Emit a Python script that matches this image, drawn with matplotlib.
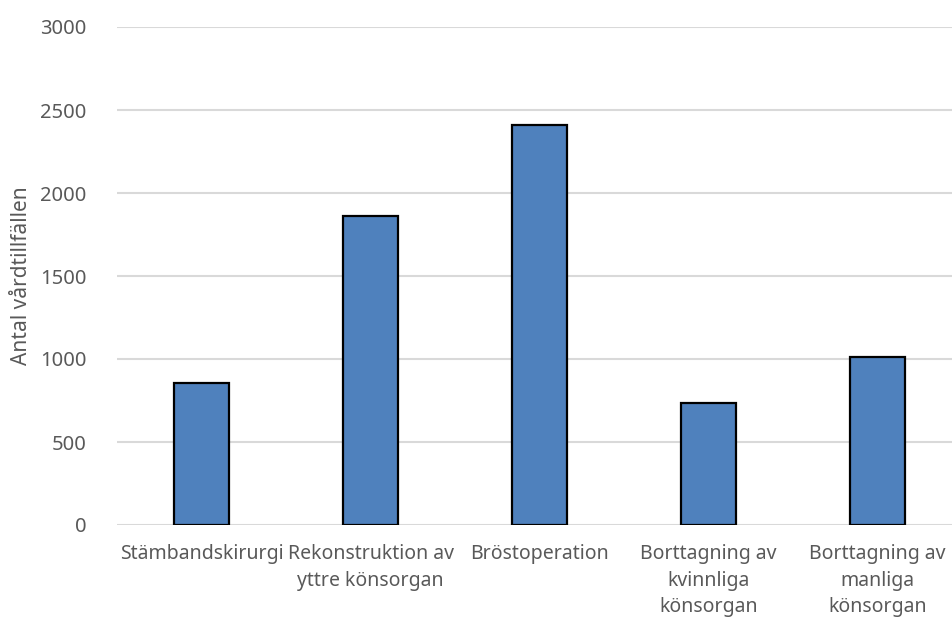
import matplotlib
matplotlib.use("Agg")
import matplotlib.pyplot as plt

categories = [
    "Stämbandskirurgi",
    "Rekonstruktion av\nyttre könsorgan",
    "Bröstoperation",
    "Borttagning av\nkvinnliga\nkönsorgan",
    "Borttagning av\nmanliga\nkönsorgan",
]
values = [855, 1860, 2410, 735, 1010]
yticks = [0, 500, 1000, 1500, 2000, 2500, 3000]
ylabel = "Antal vårdtillfällen"

plt.rcParams["font.family"] = ["Noto Sans", "DejaVu Sans"]
text_color = "#595959"

fig = plt.figure(figsize=(9.52, 6.17), dpi=100)
ax = fig.add_axes([117 / 952, 92 / 617, 845 / 952, 498 / 617])

x = list(range(len(categories)))
ax.bar(x, values, width=0.325, color="#4f81bd", edgecolor="black",
       linewidth=1.6, zorder=3)

ax.set_xlim(-0.5, len(categories) - 0.5)
ax.set_ylim(0, 3000)
ax.set_yticks(yticks)
ax.set_yticklabels([str(v) for v in yticks])
ax.grid(axis="y", color="#d9d9d9", linewidth=1.5, zorder=0)
ax.set_axisbelow(True)

ax.set_xticks(x)
ax.set_xticklabels(categories, linespacing=1.42)
ax.tick_params(axis="both", length=0, colors=text_color)
ax.tick_params(axis="y", pad=22, labelsize=14.5)
ax.tick_params(axis="x", pad=14, labelsize=14)

for s in ax.spines.values():
    s.set_visible(False)

ax.set_ylabel(ylabel, color=text_color, fontsize=15, labelpad=6)

fig.savefig("out.png", dpi=100)
